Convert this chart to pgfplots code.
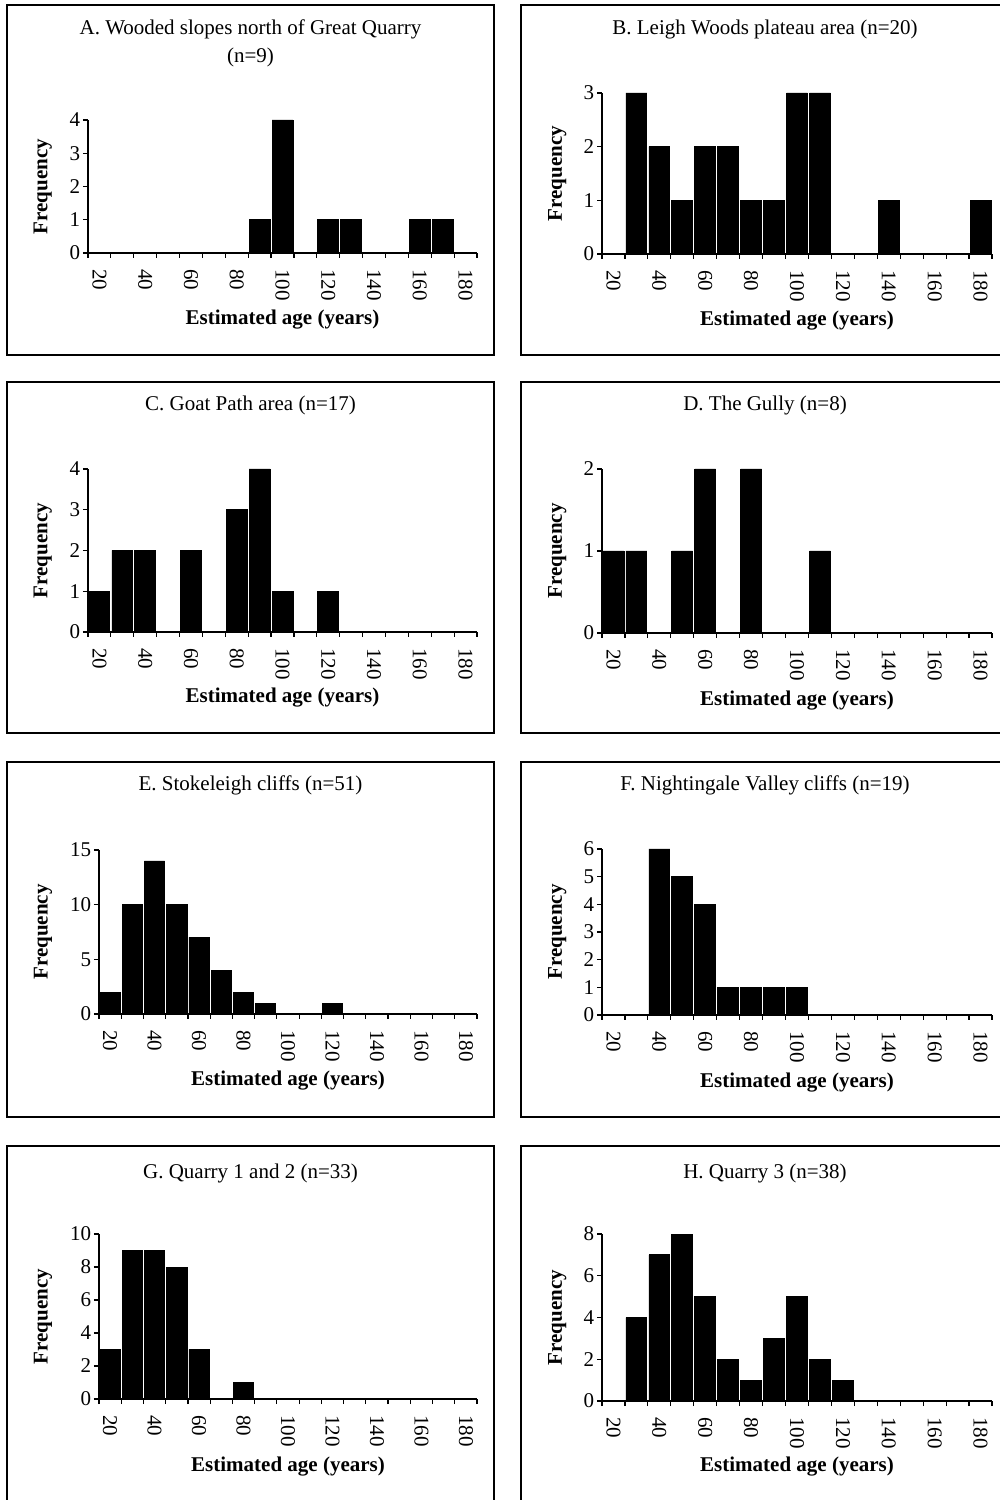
\documentclass[border=0pt]{standalone}
\usepackage{fontspec}
\setmainfont{Liberation Serif}
\usepackage{pgfplots}
\pgfplotsset{compat=1.18}
\pgfplotsset{
  panel/.style={
    scale only axis, ybar, bar width=9.1, bar shift=0pt,
    xmin=15, xmax=185, ymin=0,
    axis x line*=bottom, axis y line*=left,
    axis line style={-, line width=0.6pt, black},
    xtick={20,40,...,180}, minor xtick={15,25,...,185},
    major x tick style={draw=none},
    tick align=outside, major tick length=2.5pt, minor tick length=2.5pt,
    every tick/.append style={black, line width=0.6pt},
    every minor tick/.append style={black, line width=0.6pt},
    /pgf/number format/assume math mode=true,
    tick label style={font=\fontsize{10.5}{12}\selectfont},
    xticklabel style={rotate=-90, anchor=west, inner sep=0pt},
    xticklabel shift=5.5pt,
    yticklabel style={anchor=east, inner sep=0pt},
    yticklabel shift=1.2pt,
    xlabel={\textbf{Estimated age (years)}},
    ylabel={\textbf{Frequency}},
    label style={font=\fontsize{10.5}{12}\selectfont},
    cycle list={{fill=black, draw=none}},
  },
  xl/.style={xlabel style={at={(axis description cs:0.5,#1)}, anchor=center}},
  yl/.style={ylabel style={at={(axis description cs:#1,0.5)}, anchor=center}},
}
\begin{document}
\begin{tikzpicture}[font=\fontsize{10.5}{12}\selectfont]
\path[use as bounding box, clip] (0,0) rectangle (500pt,750pt);
% panel frames
\draw[line width=0.7pt] (3.5pt,747.5pt) rectangle (247pt,572.5pt);
\draw[line width=0.7pt] (260.5pt,747.5pt) rectangle (505pt,572.5pt);
\draw[line width=0.7pt] (3.5pt,559pt) rectangle (247pt,383.5pt);
\draw[line width=0.7pt] (260.5pt,559pt) rectangle (505pt,383.5pt);
\draw[line width=0.7pt] (3.5pt,369pt) rectangle (247pt,191.5pt);
\draw[line width=0.7pt] (260.5pt,369pt) rectangle (505pt,191.5pt);
\draw[line width=0.7pt] (3.5pt,177pt) rectangle (247pt,-5pt);
\draw[line width=0.7pt] (260.5pt,177pt) rectangle (505pt,-5pt);
% titles
\node[align=center, font=\fontsize{10.5}{14}\selectfont] at (125.25pt,728.5pt) {A. Wooded slopes north of Great Quarry\\(n=9)};
\node at (382.5pt,735.5pt) {B. Leigh Woods plateau area (n=20)};
\node at (125.25pt,547.5pt) {C. Goat Path area (n=17)};
\node at (382.5pt,547.5pt) {D. The Gully (n=8)};
\node at (125.25pt,357.5pt) {E. Stokeleigh cliffs (n=51)};
\node at (382.5pt,357.5pt) {F. Nightingale Valley cliffs (n=19)};
\node at (125.25pt,163.5pt) {G. Quarry 1 and 2 (n=33)};
\node at (382.5pt,163.5pt) {H. Quarry 3 (n=38)};

% A
\begin{axis}[panel, at={(44pt,623.5pt)}, anchor=south west, width=194.5pt, height=66.5pt,
  ymax=4, ytick={0,1,2,3,4}, xl=-0.504, yl=-0.116]
\addplot coordinates {(90,1) (100,4) (120,1) (130,1) (160,1) (170,1)};
\end{axis}
% B
\begin{axis}[panel, at={(301pt,623pt)}, anchor=south west, width=195pt, height=80.5pt,
  ymax=3, ytick={0,1,2,3}, xl=-0.416, yl=-0.115]
\addplot coordinates {(30,3) (40,2) (50,1) (60,2) (70,2) (80,1) (90,1) (100,3) (110,3) (140,1) (180,1)};
\end{axis}
% C
\begin{axis}[panel, at={(44pt,434pt)}, anchor=south west, width=194.5pt, height=81.5pt,
  ymax=4, ytick={0,1,2,3,4}, xl=-0.405, yl=-0.116]
\addplot coordinates {(20,1) (30,2) (40,2) (60,2) (80,3) (90,4) (100,1) (120,1)};
\end{axis}
% D
\begin{axis}[panel, at={(301pt,433.5pt)}, anchor=south west, width=195pt, height=82pt,
  ymax=2, ytick={0,1,2}, xl=-0.409, yl=-0.115]
\addplot coordinates {(20,1) (30,1) (50,1) (60,2) (80,2) (110,1)};
\end{axis}
% E
\begin{axis}[panel, at={(49.5pt,243pt)}, anchor=south west, width=189pt, height=82pt,
  ymax=15, ytick={0,5,10,15}, xl=-0.403, yl=-0.148]
\addplot coordinates {(20,2) (30,10) (40,14) (50,10) (60,7) (70,4) (80,2) (90,1) (120,1)};
\end{axis}
% F
\begin{axis}[panel, at={(301pt,242.5pt)}, anchor=south west, width=195pt, height=83pt,
  ymax=6, ytick={0,1,2,3,4,5,6}, xl=-0.404, yl=-0.115]
\addplot coordinates {(40,6) (50,5) (60,4) (70,1) (80,1) (90,1) (100,1)};
\end{axis}
% G
\begin{axis}[panel, at={(49.5pt,50.5pt)}, anchor=south west, width=189pt, height=82.5pt,
  ymax=10, ytick={0,2,4,6,8,10}, xl=-0.412, yl=-0.148]
\addplot coordinates {(20,3) (30,9) (40,9) (50,8) (60,3) (80,1)};
\end{axis}
% H
\begin{axis}[panel, at={(301pt,49.5pt)}, anchor=south west, width=195pt, height=83.5pt,
  ymax=8, ytick={0,2,4,6,8}, xl=-0.395, yl=-0.115]
\addplot coordinates {(30,4) (40,7) (50,8) (60,5) (70,2) (80,1) (90,3) (100,5) (110,2) (120,1)};
\end{axis}
\end{tikzpicture}
\end{document}
